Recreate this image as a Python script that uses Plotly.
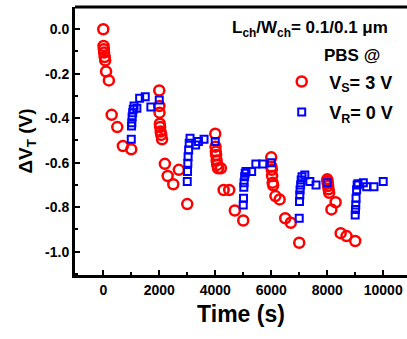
import plotly.graph_objects as go

# Stress (V_S = 3 V) points
stress_t = [0, 10, 20, 30, 50, 70, 100, 200, 300, 500, 700, 1000,
            2000, 2005, 2010, 2020, 2030, 2050, 2070, 2100, 2200, 2300, 2500, 2700, 3000,
            4000, 4010, 4020, 4030, 4050, 4070, 4100, 4200, 4300, 4500, 4700, 5000,
            6000, 6010, 6020, 6030, 6050, 6070, 6150, 6300, 6500, 6700, 7000,
            8000, 8010, 8020, 8030, 8050, 8070, 8150, 8300, 8480, 8690, 9000]
stress_v = [0.0, -0.075, -0.09, -0.105, -0.125, -0.14, -0.19, -0.23, -0.385, -0.44, -0.525, -0.54,
            -0.275, -0.345, -0.375, -0.425, -0.44, -0.46, -0.475, -0.495, -0.605, -0.66, -0.697, -0.632, -0.786,
            -0.47, -0.528, -0.55, -0.565, -0.59, -0.61, -0.625, -0.625, -0.723, -0.723, -0.815, -0.86,
            -0.576, -0.618, -0.632, -0.66, -0.69, -0.702, -0.75, -0.765, -0.85, -0.87, -0.96,
            -0.675, -0.683, -0.693, -0.705, -0.72, -0.735, -0.81, -0.778, -0.917, -0.93, -0.952]

# Recovery (V_R = 0 V) points
recov_t = [1000, 1010, 1020, 1030, 1050, 1070, 1100, 1200, 1300, 1500, 1700, 2000,
           3000, 3010, 3020, 3030, 3050, 3070, 3100, 3300, 3400, 3600, 4000,
           5000, 5010, 5020, 5030, 5050, 5070, 5100, 5300, 5450, 5700, 6000,
           7000, 7010, 7020, 7030, 7050, 7070, 7100, 7200, 7380, 7600, 8000,
           9000, 9010, 9020, 9030, 9050, 9070, 9100, 9290, 9410, 9670, 10000]
recov_v = [-0.495, -0.435, -0.42, -0.395, -0.375, -0.36, -0.345, -0.355, -0.31, -0.303, -0.35, -0.318,
           -0.685, -0.64, -0.603, -0.573, -0.543, -0.513, -0.49, -0.52, -0.505, -0.495, -0.505,
           -0.79, -0.76, -0.71, -0.69, -0.663, -0.648, -0.64, -0.64, -0.606, -0.606, -0.6,
           -0.85, -0.775, -0.745, -0.722, -0.7, -0.678, -0.663, -0.655, -0.685, -0.7, -0.69,
           -0.835, -0.81, -0.79, -0.76, -0.722, -0.7, -0.695, -0.69, -0.708, -0.708, -0.685]

x_ticks = [0, 2000, 4000, 6000, 8000, 10000]
x_tick_text = ["0", "2000", "4000", "6000", "8000", "10000"]
y_ticks = [0.0, -0.2, -0.4, -0.6, -0.8, -1.0]
y_tick_text = ["0.0", "-0.2", "-0.4", "-0.6", "-0.8", "-1.0"]

FONT = "Liberation Sans, Arial, sans-serif"

fig = go.Figure()
fig.add_trace(go.Scatter(
    x=stress_t, y=stress_v, mode="markers", name="V<sub>S</sub>= 3 V", legendgroup="s",
    marker=dict(symbol="circle-open", size=10, color="#ff0000", line=dict(width=2.5, color="#ff0000")),
))
fig.add_trace(go.Scatter(
    x=recov_t, y=recov_v, mode="markers", name="V<sub>R</sub>= 0 V", legendgroup="r",
    marker=dict(symbol="square-open", size=7, color="#0000ff", line=dict(width=2, color="#0000ff")),
))

fig.update_layout(
    template="none",
    width=407, height=339,
    margin=dict(l=75, r=0, t=7, b=64, pad=0, autoexpand=False),
    paper_bgcolor="white", plot_bgcolor="white",
    font=dict(family=FONT, color="black", size=14, weight="bold"),
    showlegend=True,
    legend=dict(x=0.6, y=0.79, xanchor="left", yanchor="top",
                font=dict(family=FONT, size=18, color="black", weight="bold"),
                bgcolor="rgba(0,0,0,0)", borderwidth=0, itemsizing="trace", itemwidth=45,
                traceorder="grouped", tracegroupgap=4),
    annotations=[
        dict(text="L<sub>ch</sub>/W<sub>ch</sub>= 0.1/0.1 μm", xref="paper", yref="paper",
             x=0.95, y=0.918, xanchor="right", yanchor="middle", showarrow=False,
             font=dict(family=FONT, size=17, color="black", weight="bold")),
        dict(text="PBS @", xref="paper", yref="paper",
             x=0.834, y=0.82, xanchor="center", yanchor="middle", showarrow=False,
             font=dict(family=FONT, size=17, color="black", weight="bold")),
    ],
    shapes=[
        dict(type="line", xref="paper", yref="paper", x0=0, x1=1.02, y0=1, y1=1,
             line=dict(color="black", width=3)),
    ],
)

fig.update_xaxes(
    range=[-1010, 10850], tickvals=x_ticks, ticktext=x_tick_text, ticks="inside", ticklen=5, tickwidth=2,
    tickcolor="black",
    showline=True, linewidth=3, linecolor="black", mirror=False, automargin=False,
    showgrid=False, zeroline=False,
    minor=dict(ticks="inside", ticklen=3, tickwidth=2, tickcolor="black", dtick=1000, tick0=0, showgrid=False),
    tickfont=dict(family=FONT, size=14, color="black", weight="bold"),
    title=dict(text="Time (s)", font=dict(family=FONT, size=23, color="black", weight="bold"), standoff=10),
)
fig.update_yaxes(
    range=[-1.105, 0.1], tickvals=y_ticks, ticktext=y_tick_text, ticks="inside", ticklen=5, tickwidth=2,
    tickcolor="black",
    showline=True, linewidth=3, linecolor="black", mirror=False, automargin=False,
    showgrid=False, zeroline=False,
    minor=dict(ticks="inside", ticklen=3, tickwidth=2, tickcolor="black", dtick=0.1, tick0=0, showgrid=False),
    tickfont=dict(family=FONT, size=14, color="black", weight="bold"),
    title=dict(text="ΔV<sub>T</sub> (V)", font=dict(family=FONT, size=19, color="black", weight="bold"), standoff=8),
)

fig.write_html(
    "out.html",
    config={"displayModeBar": False},
    post_script="document.documentElement.style.overflow='hidden';document.body.style.overflow='hidden';document.body.style.margin='0';",
)
